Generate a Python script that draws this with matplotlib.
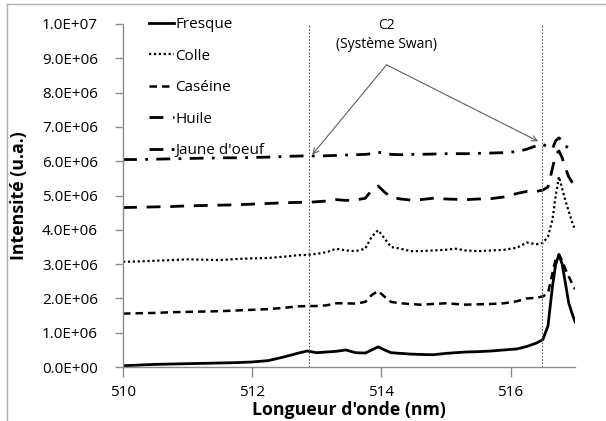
import numpy as np
import matplotlib.pyplot as plt
from matplotlib.lines import Line2D
from matplotlib.ticker import FuncFormatter, MultipleLocator

plt.rcParams['font.family'] = ['Open Sans', 'DejaVu Sans']

# longueurs d'onde (nm)
wavelength = [510.0, 510.25, 510.5, 510.75, 511.0, 511.25, 511.5, 511.75, 512.0, 512.25,
              512.5, 512.7, 512.85, 513.0, 513.15, 513.3, 513.45, 513.6, 513.75, 513.85,
              513.95, 514.05, 514.15, 514.3, 514.45, 514.6, 514.8, 515.0, 515.15, 515.3,
              515.5, 515.7, 515.9, 516.1, 516.25, 516.4, 516.5, 516.58, 516.65, 516.7,
              516.75, 516.8, 516.85, 516.9, 516.95, 517.0]

# intensites en millions (u.a.)
fresque = [0.04, 0.06, 0.08, 0.09, 0.10, 0.11, 0.12, 0.13, 0.15, 0.19,
           0.30, 0.40, 0.47, 0.42, 0.44, 0.46, 0.50, 0.42, 0.41, 0.50,
           0.59, 0.50, 0.42, 0.40, 0.38, 0.37, 0.36, 0.40, 0.42, 0.44,
           0.45, 0.47, 0.50, 0.53, 0.60, 0.70, 0.80, 1.20, 2.36, 3.00,
           3.28, 3.00, 2.45, 1.88, 1.58, 1.32]
colle = [3.07, 3.08, 3.10, 3.12, 3.14, 3.13, 3.12, 3.15, 3.17, 3.18,
         3.22, 3.26, 3.27, 3.30, 3.35, 3.45, 3.40, 3.38, 3.45, 3.80,
         3.99, 3.75, 3.50, 3.45, 3.38, 3.38, 3.40, 3.42, 3.45, 3.40,
         3.38, 3.40, 3.42, 3.48, 3.63, 3.58, 3.62, 3.80, 4.30, 5.00,
         5.55, 5.20, 4.85, 4.55, 4.25, 4.00]
caseine = [1.56, 1.57, 1.58, 1.60, 1.61, 1.62, 1.63, 1.65, 1.67, 1.69,
           1.73, 1.77, 1.78, 1.78, 1.80, 1.86, 1.86, 1.85, 1.90, 2.10,
           2.22, 2.05, 1.90, 1.86, 1.84, 1.82, 1.84, 1.86, 1.84, 1.82,
           1.83, 1.84, 1.86, 1.92, 2.00, 2.02, 2.06, 2.15, 2.75, 3.15,
           3.28, 3.10, 2.85, 2.65, 2.45, 2.27]
huile = [4.65, 4.66, 4.67, 4.68, 4.70, 4.71, 4.72, 4.73, 4.75, 4.77,
         4.79, 4.80, 4.80, 4.82, 4.84, 4.88, 4.86, 4.87, 4.92, 5.15,
         5.28, 5.10, 4.95, 4.90, 4.87, 4.88, 4.92, 4.90, 4.89, 4.88,
         4.90, 4.91, 4.96, 5.06, 5.12, 5.12, 5.16, 5.25, 5.80, 6.20,
         6.30, 6.10, 5.80, 5.55, 5.40, 5.30]
jaune = [6.05, 6.05, 6.06, 6.07, 6.08, 6.09, 6.10, 6.10, 6.11, 6.12,
         6.14, 6.15, 6.16, 6.15, 6.16, 6.17, 6.18, 6.19, 6.20, 6.22,
         6.26, 6.24, 6.20, 6.19, 6.20, 6.20, 6.21, 6.22, 6.22, 6.22,
         6.23, 6.24, 6.25, 6.28, 6.35, 6.45, 6.50, 6.40, 6.37, 6.60,
         6.68, 6.60, 6.45, 6.38, 6.32, 6.28]

labels = ['Fresque', 'Colle', 'Caséine', 'Huile', "Jaune d'oeuf"]
series = [fresque, colle, caseine, huile, jaune]
styles = [dict(ls='-', lw=2.0),
          dict(ls=(0, (1, 1.2)), lw=1.6),
          dict(ls=(0, (3, 2)), lw=1.8),
          dict(ls=(0, (5, 3.5)), lw=2.0),
          dict(ls=(0, (5, 3, 1, 3)), lw=2.0)]

# bandes C2 (systeme de Swan)
swan_lines = [512.88, 516.48]

grey = '#8c8c8c'

fig = plt.figure(figsize=(6.06, 4.21), dpi=100)
ax = fig.add_axes([0.203, 0.128, 0.746, 0.815])

x = np.array(wavelength)
for lab, y, st in zip(labels, series, styles):
    ax.plot(x, np.array(y) * 1e6, color='black', label=lab, **st)

ax.vlines(swan_lines, 0, 1e7, colors='#555555', linestyles=(0, (1.5, 1.5)), lw=0.8)

# annotation C2 avec deux fleches
ax.text(514.08, 9.68e6, 'C2\n(Système Swan)', ha='center', va='center',
        fontsize=10, linespacing=1.45)
for xe, ye in [(512.93, 6.19e6), (516.43, 6.58e6)]:
    ax.annotate('', xy=(xe, ye), xytext=(514.08, 8.81e6),
                arrowprops=dict(arrowstyle='->', color='#606060', lw=0.8,
                                shrinkA=0, shrinkB=0))

ax.set_xlim(510, 517)
ax.set_ylim(0, 1e7)
ax.xaxis.set_major_locator(MultipleLocator(2))
ax.yaxis.set_major_locator(MultipleLocator(1e6))
ax.yaxis.set_major_formatter(FuncFormatter(lambda v, p: f'{v:.1E}'))

for s in ['top', 'right']:
    ax.spines[s].set_visible(False)
for s in ['left', 'bottom']:
    ax.spines[s].set_color(grey)
    ax.spines[s].set_linewidth(1.0)
ax.tick_params(axis='both', colors=grey, width=1.0, labelsize=11, labelcolor='black')
ax.tick_params(axis='y', length=6, pad=12)
ax.tick_params(axis='x', length=7, pad=6)

ax.set_xlabel("Longueur d'onde (nm)", fontsize=12.8, fontweight='bold')
ax.set_ylabel('Intensité (u.a.)', fontsize=12.8, fontweight='bold')
ax.xaxis.set_label_coords(0.5, -0.1)
ax.yaxis.set_label_coords(-0.21, 0.5)

ax.legend(loc='upper left', bbox_to_anchor=(0.235, 0.974), bbox_transform=fig.transFigure,
          frameon=False, fontsize=11, handlelength=1.7, handletextpad=0.05,
          labelspacing=1.08, borderaxespad=0)

# cadre du graphique
fig.add_artist(Line2D([7 / 606, 7 / 606], [0, 1 - 4 / 421], color='#b0b0b0', lw=1.0))
fig.add_artist(Line2D([7 / 606, 1], [1 - 4 / 421, 1 - 4 / 421], color='#b0b0b0', lw=1.0))

fig.savefig('out.png', dpi=100)
